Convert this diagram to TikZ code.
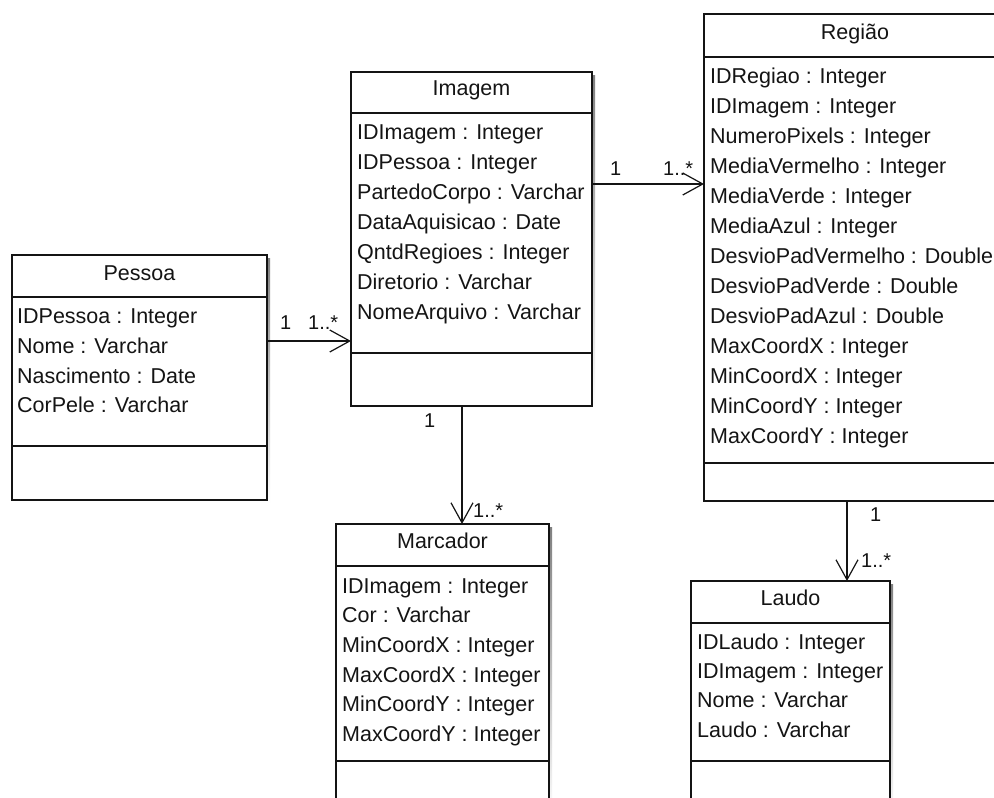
\documentclass[tikz,border=0pt]{standalone}
\usepackage{fontspec}
\setmainfont{Liberation Sans}
\usetikzlibrary{arrows.meta}
\definecolor{ink}{HTML}{141414}
\definecolor{shade}{HTML}{BDBDBD}
\begin{document}
\begin{tikzpicture}[x=1pt,y=-1pt,
 classbox/.style={draw=ink, line width=1.2pt, fill=white, anchor=north west, inner sep=0pt, outer sep=0pt},
 attr/.style={anchor=base west, inner sep=0pt, text=ink, font=\fontsize{21.5}{25}\selectfont},
 ttl/.style={anchor=base, inner sep=0pt, text=ink, font=\fontsize{21.5}{25}\selectfont},
 mult/.style={anchor=base west, inner sep=0pt, text=ink, font=\fontsize{20}{24}\selectfont},
 sepline/.style={draw=ink, line width=1.2pt},
 assoc/.style={draw=ink, line width=1.2pt, -{Straight Barb[length=20pt,width=22pt]}}]

\useasboundingbox (0,0) rectangle (994,798);
\clip (0,0) rectangle (994,798);
\fill[white] (0,0) rectangle (994,798);

% ---------- Pessoa ----------
\fill[shade] (15,258) rectangle (270,503);
\node[classbox, minimum width=255pt, minimum height=245pt] (pessoa) at (12,255) {};
\draw[sepline] (12,297) -- (267,297);
\draw[sepline] (12,446) -- (267,446);
\node[ttl] (pessoaT) at (139.5,280) {Pessoa};
\node[attr] (p1) at (17,323) {IDPessoa : Integer};
\node[attr] (p2) at (17,353) {Nome : Varchar};
\node[attr] (p3) at (17,383) {Nascimento : Date};
\node[attr] (p4) at (17,412) {CorPele : Varchar};

% ---------- Imagem ----------
\fill[shade] (354,75) rectangle (595,409);
\node[classbox, minimum width=241pt, minimum height=334pt] (imagem) at (351,72) {};
\draw[sepline] (351,113) -- (592,113);
\draw[sepline] (351,353) -- (592,353);
\node[ttl] (imagemT) at (471.5,95) {Imagem};
\node[attr] (i1) at (357,139) {IDImagem : Integer};
\node[attr] (i2) at (357,169) {IDPessoa : Integer};
\node[attr] (i3) at (357,199) {PartedoCorpo : Varchar};
\node[attr] (i4) at (357,229) {DataAquisicao : Date};
\node[attr] (i5) at (357,259) {QntdRegioes : Integer};
\node[attr] (i6) at (357,289) {Diretorio : Varchar};
\node[attr] (i7) at (357,319) {NomeArquivo : Varchar};

% ---------- Regiao ----------
\fill[shade] (707,17) rectangle (1009,504);
\node[classbox, minimum width=302pt, minimum height=487pt] (regiao) at (704,14) {};
\draw[sepline] (704,57) -- (1006,57);
\draw[sepline] (704,463) -- (1006,463);
\node[ttl] (regiaoT) at (855,39) {Região};
\node[attr] (r1) at (710,83) {IDRegiao : Integer};
\node[attr] (r2) at (710,113) {IDImagem : Integer};
\node[attr] (r3) at (710,143) {NumeroPixels : Integer};
\node[attr] (r4) at (710,173) {MediaVermelho : Integer};
\node[attr] (r5) at (710,203) {MediaVerde : Integer};
\node[attr] (r6) at (710,233) {MediaAzul : Integer};
\node[attr] (r7) at (710,263) {DesvioPadVermelho : Double};
\node[attr] (r8) at (710,293) {DesvioPadVerde : Double};
\node[attr] (r9) at (710,323) {DesvioPadAzul : Double};
\node[attr] (r10) at (710,353) {MaxCoordX : Integer};
\node[attr] (r11) at (710,383) {MinCoordX : Integer};
\node[attr] (r12) at (710,413) {MinCoordY : Integer};
\node[attr] (r13) at (710,443) {MaxCoordY : Integer};

% ---------- Marcador ----------
\fill[shade] (339,527) rectangle (552,820);
\node[classbox, minimum width=213pt, minimum height=296pt] (marcador) at (336,524) {};
\draw[sepline] (336,566) -- (549,566);
\draw[sepline] (336,761) -- (549,761);
\node[ttl] (marcadorT) at (442.5,548) {Marcador};
\node[attr] (m1) at (342,593) {IDImagem : Integer};
\node[attr] (m2) at (342,622) {Cor : Varchar};
\node[attr] (m3) at (342,652) {MinCoordX : Integer};
\node[attr] (m4) at (342,682) {MaxCoordX : Integer};
\node[attr] (m5) at (342,711) {MinCoordY : Integer};
\node[attr] (m6) at (342,741) {MaxCoordY : Integer};

% ---------- Laudo ----------
\fill[shade] (694,584) rectangle (893,820);
\node[classbox, minimum width=199pt, minimum height=239pt] (laudo) at (691,581) {};
\draw[sepline] (691,623) -- (890,623);
\draw[sepline] (691,761) -- (890,761);
\node[ttl] (laudoT) at (790.5,605) {Laudo};
\node[attr] (l1) at (697,649) {IDLaudo : Integer};
\node[attr] (l2) at (697,678) {IDImagem : Integer};
\node[attr] (l3) at (697,707) {Nome : Varchar};
\node[attr] (l4) at (697,737) {Laudo : Varchar};

% ---------- Associations ----------
\coordinate (a1) at (0,341);
\coordinate (a2) at (0,184);
\coordinate (a3) at (462,0);
\coordinate (a4) at (847,0);
\draw[assoc] (pessoa.east |- a1) -- (imagem.west |- a1);
\draw[assoc] (imagem.east |- a2) -- (regiao.west |- a2);
\draw[assoc] (imagem.south -| a3) -- (marcador.north -| a3);
\draw[assoc] (regiao.south -| a4) -- (laudo.north -| a4);

\node[mult] (m1a) at (280,329) {1};
\node[mult] (m1b) at (308,329) {1..*};
\node[mult] (m2a) at (610,175) {1};
\node[mult] (m2b) at (663,175) {1..*};
\node[mult] (m3a) at (424,427) {1};
\node[mult] (m3b) at (473,517) {1..*};
\node[mult] (m4a) at (870,521) {1};
\node[mult] (m4b) at (861,567) {1..*};
\end{tikzpicture}
\end{document}
